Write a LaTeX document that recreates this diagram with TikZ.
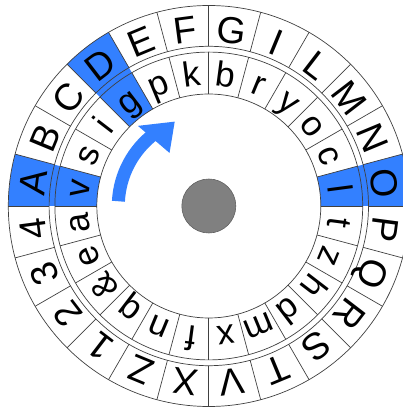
\documentclass[tikz,border=0pt]{standalone}
\usepackage{fontspec}
\setmainfont{Liberation Sans}
\definecolor{hl}{RGB}{51,128,255}
\begin{document}
\begin{tikzpicture}[x=1pt,y=1pt,
  ringline/.style={line width=0.7pt, draw=black!75},
  outerletter/.style={anchor=base, inner sep=0pt, font=\fontsize{37.5}{37.5}\selectfont},
  innerletter/.style={anchor=base, inner sep=0pt, font=\fontsize{35}{35}\selectfont},
  highlight/.style={fill=hl},
  arrowbody/.style={line width=13pt, draw=hl},
  hubstyle/.style={circle, fill=black!50, draw=black!62, line width=0.6pt, minimum size=54pt, inner sep=0pt}]
\begin{scope}[shift={(208.8,203)}]
\path[use as bounding box, clip] (-208.8,-203) rectangle (194.2,206);
\def\Ra{200.5}\def\Rb{159.7}\def\Rc{153.9}\def\Rd{112}
% highlighted sectors
\foreach \a in {165,120,0}{
  \fill[highlight] (\a:\Rd) arc[start angle=\a, end angle=\a+15, radius=\Rd]
    -- (\a+15:\Ra) arc[start angle=\a+15, end angle=\a, radius=\Ra] -- cycle;
}
% rings
\foreach \r in {\Ra,\Rb,\Rc,\Rd}{
  \draw[ringline] (0,0) circle[radius=\r];
}
\foreach \k in {0,...,23}{
  \draw[ringline] (15*\k:\Rb) -- (15*\k:\Ra);
  \draw[ringline] (15*\k:\Rd) -- (15*\k:\Rc);
}
% letters
\foreach \L [count=\k] in {A,B,C,D,E,F,G,I,L,M,N,O,P,Q,R,S,T,V,X,Z,1,2,3,4}
  \node[outerletter, rotate={97.5-15*\k}] (o\k) at ({187.5-15*\k}:164.5) {\L};
\foreach \L [count=\k] in {v,s,i,g,p,k,b,r,y,o,c,l,t,z,h,d,m,x,f,n,q,\&,e,a}
  \node[innerletter, rotate={97.5-15*\k}] (i\k) at ({187.5-15*\k}:120.5) {\L};
% arrow
\draw[arrowbody] (177:90.5) arc[start angle=177, end angle=127, radius=90.5];
\fill[hl] (131.5:107) -- (112:91) -- (126.5:66) -- cycle;
% hub
\node[hubstyle] (hub) at (0,0) {};
\end{scope}
\end{tikzpicture}
\end{document}
